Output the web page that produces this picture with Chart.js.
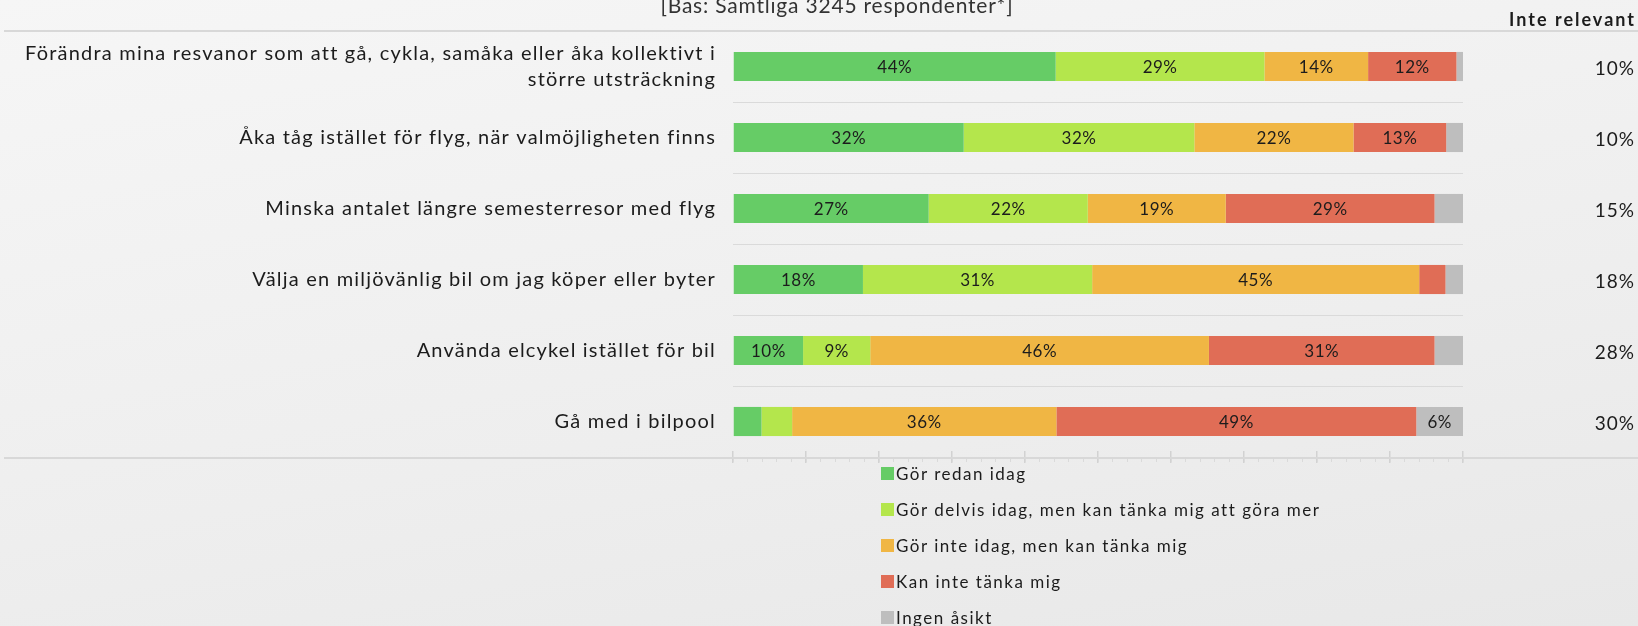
<!DOCTYPE html>
<html>
<head>
<meta charset="utf-8">
<script src="https://cdn.jsdelivr.net/npm/chart.js@4.4.1/dist/chart.umd.min.js"></script>
<style>
  html, body { margin: 0; padding: 0; }
  body {
    width: 1638px; height: 626px; overflow: hidden;
    background: linear-gradient(170deg, #f6f6f6 0%, #eeeeee 60%, #e8e8e8 100%);
    font-family: Lato, sans-serif;
  }
  #wrap { position: relative; width: 1638px; height: 626px; }
  #legend { position: absolute; left: 881px; top: 456px; }
  #legend .item { height: 35.8px; display: flex; align-items: center; font-size: 17px; letter-spacing: 1.5px; color: #1c1c1c; }
  #legend .box { width: 13px; height: 13px; margin-right: 2px; flex: none; }
</style>
</head>
<body>
<div id="wrap">
  <canvas id="chart" width="1638" height="626"></canvas>
  <div id="legend"></div>
</div>
<script>
// Categories (rows, top to bottom)
const categories = [
  ['Förändra mina resvanor som att gå, cykla, samåka eller åka kollektivt i', 'större utsträckning'],
  'Åka tåg istället för flyg, när valmöjligheten finns',
  'Minska antalet längre semesterresor med flyg',
  'Välja en miljövänlig bil om jag köper eller byter',
  'Använda elcykel istället för bil',
  'Gå med i bilpool',
];

// Series values (% of those for whom it is relevant)
const gorRedan   = [44.2, 31.6, 26.8, 17.8, 9.6, 3.9];
const gorDelvis  = [28.6, 31.6, 21.8, 31.4, 9.2, 4.2];
const gorInte    = [14.2, 21.8, 18.9, 44.8, 46.4, 36.2];
const kanInte    = [12.1, 12.7, 28.6, 3.6, 30.9, 49.3];
const ingenAsikt = [0.9, 2.3, 3.9, 2.4, 3.9, 6.4];

// Right-hand column
const inteRelevant = [10, 10, 15, 18, 28, 30];

const seriesNames = [
  'Gör redan idag',
  'Gör delvis idag, men kan tänka mig att göra mer',
  'Gör inte idag, men kan tänka mig',
  'Kan inte tänka mig',
  'Ingen åsikt',
];
const seriesColors = ['#66cc66', '#b4e64c', '#f0b644', '#e06d56', '#bebebe'];
const seriesData = [gorRedan, gorDelvis, gorInte, kanInte, ingenAsikt];

const titleText = '[Bas: Samtliga 3245 respondenter*]';
const sideHeader = 'Inte relevant';

const TEXT = '#1c1c1c';

const extras = {
  id: 'extras',
  beforeLayout(chart) { chart.ctx.letterSpacing = '1.2px'; },
  beforeDraw(chart) { chart.ctx.letterSpacing = '1.2px'; },
  beforeDatasetsDraw(chart) {
    const { ctx, chartArea } = chart;
    ctx.save();
    ctx.strokeStyle = '#d8d8d8';
    ctx.lineWidth = 2;
    ctx.beginPath();
    ctx.moveTo(4, chartArea.top); ctx.lineTo(1638, chartArea.top);
    ctx.moveTo(4, chartArea.bottom + 1); ctx.lineTo(1638, chartArea.bottom + 1);
    ctx.stroke();
    ctx.restore();
  },
  afterDatasetsDraw(chart) {
    const { ctx } = chart;
    const yScale = chart.scales.y;
    ctx.save();
    // segment labels
    ctx.font = '17px Lato';
    ctx.letterSpacing = '0.5px';
    ctx.fillStyle = TEXT;
    ctx.textAlign = 'center';
    ctx.textBaseline = 'middle';
    chart.data.datasets.forEach((ds, di) => {
      chart.getDatasetMeta(di).data.forEach((el, i) => {
        const v = ds.data[i];
        if (v < 5) return;
        const p = el.getCenterPoint();
        ctx.fillText(Math.round(v) + '%', p.x, p.y + 1);
      });
    });
    // right column
    ctx.font = '19px Lato';
    ctx.textAlign = 'right';
    ctx.letterSpacing = '1px';
    inteRelevant.forEach((v, i) => {
      ctx.fillText(v + '%', 1635, yScale.getPixelForValue(i) + 2);
    });
    ctx.font = 'bold 18px Lato';
    ctx.letterSpacing = '2px';
    ctx.textBaseline = 'alphabetic';
    ctx.fillText(sideHeader, 1636, 26);
    // title
    ctx.font = '21px Lato';
    ctx.letterSpacing = '0.8px';
    ctx.textAlign = 'center';
    ctx.fillStyle = '#333';
    ctx.fillText(titleText, 837, 13);
    ctx.restore();
  },
};

const zeroHeight = s => { s.height = 0; };

const chart = new Chart(document.getElementById('chart'), {
  type: 'bar',
  data: {
    labels: categories,
    datasets: seriesData.map((d, i) => ({
      label: seriesNames[i],
      data: d,
      backgroundColor: seriesColors[i],
      borderWidth: 0,
      categoryPercentage: 1,
      barPercentage: 0.41,
    })),
  },
  options: {
    indexAxis: 'y',
    responsive: false,
    animation: false,
    devicePixelRatio: 1,
    layout: { padding: { top: 31, right: 175, bottom: 169, left: 0 } },
    plugins: { legend: { display: false }, tooltip: { enabled: false } },
    scales: {
      x: {
        stacked: true, min: 0, max: 100, position: 'bottom',
        ticks: { display: false, stepSize: 10 },
        grid: { drawOnChartArea: false, tickLength: 6, color: '#d2d2d2', lineWidth: 1.5 },
        border: { display: false },
        afterFit: zeroHeight,
      },
      xUp: {
        type: 'linear', min: 0, max: 100, position: 'bottom',
        ticks: { display: false, stepSize: 10 },
        grid: { drawOnChartArea: false, tickLength: -6, color: '#d2d2d2', lineWidth: 1.5 },
        border: { display: false },
        afterFit: zeroHeight,
      },
      xMinor: {
        type: 'linear', min: 0, max: 100, position: 'bottom',
        ticks: { display: false, stepSize: 2 },
        grid: { drawOnChartArea: false, tickLength: 5, color: '#dadada', lineWidth: 1 },
        border: { display: false },
        afterFit: zeroHeight,
      },
      y: {
        stacked: true,
        ticks: { font: { family: 'Lato', size: 20, lineHeight: 1.3 }, color: TEXT, padding: 17 },
        grid: { offset: true, drawTicks: false, color: '#dadada', lineWidth: 1 },
        border: { display: false },
        afterFit: s => { s.width = 733; },
      },
    },
  },
  plugins: [extras],
});

// legend
const legend = document.getElementById('legend');
chart.data.datasets.forEach(ds => {
  const item = document.createElement('div');
  item.className = 'item';
  const box = document.createElement('span');
  box.className = 'box';
  box.style.background = ds.backgroundColor;
  const txt = document.createElement('span');
  txt.textContent = ds.label;
  item.appendChild(box);
  item.appendChild(txt);
  legend.appendChild(item);
});
</script>
</body>
</html>
